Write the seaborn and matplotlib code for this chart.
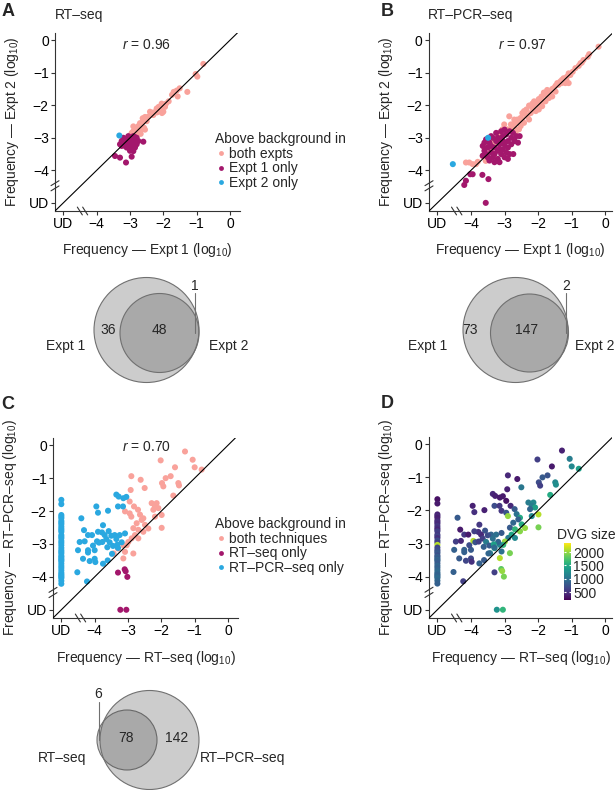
import matplotlib
matplotlib.use('Agg')
import matplotlib as mpl
from matplotlib import pyplot as plt
from matplotlib.patches import Circle
import pandas as pd
import seaborn as sns

UD = -5  # "undetected" position on both axes

# ---------------- data (log10 frequencies) ----------------
# A: RT-seq, expt 1 vs expt 2
a_both = [(-0.80, -0.73), (-1.03, -1.04), (-0.98, -1.12), (-1.28, -1.59), (-1.51, -1.48), (-1.57, -1.73),
          (-1.69, -1.59), (-1.74, -1.68), (-1.84, -1.88), (-1.92, -1.95), (-2.01, -2.01), (-2.09, -2.13),
          (-2.14, -2.05), (-2.19, -2.22), (-2.04, -2.24), (-2.29, -2.22), (-2.34, -2.29), (-2.55, -2.36),
          (-2.60, -2.49), (-2.50, -2.49), (-2.65, -2.59), (-2.75, -2.64), (-2.72, -2.74), (-2.82, -2.74),
          (-2.90, -2.80), (-2.95, -2.85), (-2.80, -2.87), (-2.65, -2.74), (-2.58, -2.69), (-3.00, -2.93),
          (-2.85, -2.95), (-2.04, -2.18), (-2.45, -2.35), (-2.20, -2.10), (-1.95, -2.05), (-2.05, -1.95),
          (-1.60, -1.55), (-2.70, -2.55), (-2.90, -2.65), (-2.55, -2.75), (-3.05, -2.97), (-2.93, -3.02),
          (-2.00, -2.20), (-2.30, -2.30), (-2.40, -2.20), (-2.62, -2.40), (-2.78, -2.82), (-2.68, -2.88)]
a_expt1 = [(-3.45, -3.56), (-3.30, -3.61), (-3.12, -3.76), (-2.95, -3.58), (-2.90, -3.41), (-2.60, -3.12),
           (-3.25, -3.10), (-3.20, -3.20), (-3.15, -3.25), (-3.10, -3.15), (-3.05, -3.10), (-3.00, -3.20),
           (-2.95, -3.10), (-2.90, -3.05), (-2.85, -3.15), (-2.80, -3.20), (-3.10, -3.30), (-3.00, -3.30),
           (-2.95, -3.25), (-3.20, -3.00), (-3.15, -3.05), (-3.05, -2.95), (-2.90, -2.95), (-2.85, -2.98),
           (-3.25, -3.25), (-3.10, -3.05), (-2.95, -3.35), (-2.85, -3.30), (-2.75, -3.10), (-2.80, -3.00),
           (-3.00, -3.05), (-3.30, -3.20), (-3.15, -3.15), (-3.05, -3.20), (-2.90, -3.20), (-3.00, -3.40)]
a_expt2 = [(-3.32, -2.93)]

# B: RT-PCR-seq, expt 1 vs expt 2
b_both = [(-0.20, -0.20), (-0.48, -0.43), (-0.52, -0.51), (-0.65, -0.61), (-0.70, -0.69), (-0.74, -0.71),
          (-0.79, -0.79), (-0.89, -0.86), (-0.97, -0.97), (-1.04, -1.07), (-1.09, -1.02), (-1.14, -1.12),
          (-1.16, -1.22), (-1.24, -1.17), (-1.29, -1.22), (-1.34, -1.27), (-1.09, -1.32), (-1.19, -1.32),
          (-1.30, -1.32), (-1.43, -1.32), (-1.39, -1.37), (-1.48, -1.40), (-1.53, -1.47), (-1.58, -1.50),
          (-1.48, -1.58), (-1.63, -1.58), (-1.73, -1.53), (-1.68, -1.63), (-1.78, -1.68), (-1.83, -1.61),
          (-1.58, -1.73), (-1.68, -1.78), (-1.90, -1.73), (-1.98, -1.81), (-1.78, -1.88), (-1.93, -1.88),
          (-2.02, -1.88), (-2.12, -1.88), (-2.17, -1.95), (-2.07, -1.98), (-1.98, -1.98), (-1.83, -1.88),
          (-1.88, -2.03), (-2.27, -2.01), (-2.17, -2.08), (-1.98, -2.13), (-2.07, -2.18), (-2.35, -2.13),
          (-2.42, -2.18), (-2.22, -2.24), (-2.47, -2.24), (-2.37, -2.29), (-2.32, -2.34), (-2.86, -2.34),
          (-2.52, -2.39), (-2.62, -2.44), (-2.27, -2.44), (-2.47, -2.44), (-2.71, -2.44), (-2.67, -2.54),
          (-2.42, -2.54), (-2.57, -2.54), (-2.76, -2.59), (-2.81, -2.59), (-3.01, -2.59), (-2.52, -2.64),
          (-2.71, -2.69), (-2.81, -2.74), (-2.91, -2.74), (-2.57, -2.74), (-3.06, -2.74), (-2.96, -2.85),
          (-2.67, -2.85), (-3.16, -2.85), (-3.06, -2.93), (-3.16, -3.00), (-3.26, -3.10), (-3.36, -3.15),
          (-3.46, -3.20), (-3.21, -3.20), (-3.56, -3.25), (-3.60, -3.30), (-3.41, -3.36), (-3.36, -3.46),
          (-3.51, -3.51), (-3.31, -3.56), (-3.65, -3.56), (-3.46, -3.66), (-3.56, -3.71), (-3.80, -3.74),
          (-3.85, -3.81), (-3.95, -3.81), (-4.05, -3.76), (-4.15, -3.76)]
b_expt1 = [(-3.65, -3.25), (-3.60, -3.40), (-3.55, -3.50), (-3.50, -3.30), (-3.45, -3.15), (-3.40, -3.45),
           (-3.35, -3.60), (-3.30, -3.30), (-3.30, -3.50), (-3.25, -3.10), (-3.20, -3.40), (-3.20, -3.65),
           (-3.15, -3.20), (-3.10, -3.50), (-3.10, -3.05), (-3.05, -3.35), (-3.00, -3.60), (-3.00, -3.20),
           (-2.95, -2.90), (-2.95, -3.45), (-2.90, -3.10), (-2.90, -3.30), (-2.85, -3.50), (-2.80, -3.00),
           (-2.80, -3.20), (-2.75, -2.85), (-2.70, -3.10), (-2.65, -2.95), (-2.60, -3.15), (-2.55, -2.95),
           (-3.45, -3.70), (-3.30, -3.75), (-3.15, -3.75), (-3.55, -3.05), (-3.40, -2.95), (-3.25, -2.85),
           (-3.10, -2.80), (-3.00, -2.75), (-3.35, -3.00), (-3.20, -3.00), (-2.74, -3.50), (-3.05, -2.95),
           (-2.85, -2.80), (-3.65, -3.55), (-3.50, -3.60), (-2.90, -3.65), (-3.05, -3.10), (-3.15, -3.35),
           (-3.40, -3.25), (-3.60, -3.15), (-4.02, -4.12), (-4.15, -4.32), (-3.95, -4.12), (-4.20, -4.45),
           (-3.66, -4.14), (-3.48, -4.27), (-3.56, UD)]
b_expt2 = [(-3.49, -3.00), (-4.54, -3.81)]

# C / D: RT-seq (x) vs RT-PCR-seq (y), with DVG size
c_both = [(-1.29, -0.19, 400), (-2.02, -0.46, 600), (-1.06, -0.44, 1100), (-1.00, -0.67, 1200),
          (-0.79, -0.74, 1400), (-1.59, -0.67, 350), (-2.90, -0.94, 450), (-2.62, -1.05, 350),
          (-1.87, -1.00, 800), (-1.72, -0.94, 750), (-1.98, -1.15, 700), (-1.94, -1.25, 600),
          (-1.49, -1.15, 1200), (-1.47, -1.22, 1250), (-1.64, -1.53, 1500), (-2.50, -1.30, 1050),
          (-2.92, -1.36, 400), (-2.95, -1.71, 300), (-2.82, -1.86, 450), (-3.09, -2.01, 550),
          (-2.95, -2.07, 750), (-2.90, -2.17, 2000), (-2.70, -1.96, 800), (-2.64, -2.11, 1000),
          (-2.54, -2.22, 1500), (-2.29, -1.76, 1100), (-2.14, -1.76, 1200), (-2.19, -1.86, 1100),
          (-2.09, -1.91, 1400), (-2.24, -1.96, 900), (-2.19, -2.17, 1200), (-1.99, -2.12, 2100),
          (-1.99, -2.51, 1900), (-2.59, -2.27, 850), (-2.49, -2.42, 1500), (-2.74, -2.37, 900),
          (-2.84, -2.52, 800), (-2.69, -2.57, 1600), (-2.54, -2.63, 1950), (-2.39, -2.53, 2000),
          (-2.79, -2.73, 1450), (-2.69, -2.83, 1200), (-2.89, -2.83, 1100), (-2.99, -2.94, 2000),
          (-3.04, -3.04, 1600), (-3.14, -3.04, 1200), (-3.43, -3.29, 1100), (-3.30, -3.14, 1400),
          (-3.09, -3.24, 1000), (-3.14, -3.44, 2100), (-2.84, -3.29, 1900)]
c_rt_only = [(-3.30, -3.87, 600), (-3.10, -3.77, 1800), (-3.07, -3.83, 2000), (-3.02, -4.00, 1900),
             (-3.23, UD, 1300), (-3.05, UD, 1600)]
c_pcr_only = [(-3.35, -1.50, 450), (-3.28, -1.56, 400), (-3.14, -1.61, 350), (-3.05, -1.57, 350),
              (-3.30, -1.86, 700), (-3.15, -1.86, 550), (-3.60, -1.99, 400), (-3.90, -2.05, 500),
              (-3.95, -1.86, 400), (-4.40, -2.22, 800), (-4.32, -2.58, 350), (-3.75, -2.43, 550),
              (-3.58, -2.61, 750), (-3.70, -2.73, 450), (-3.65, -2.85, 600), (-3.55, -2.95, 1100),
              (-3.45, -3.06, 800), (-3.40, -2.73, 900), (-3.25, -2.73, 1000), (-3.09, -2.68, 800),
              (-3.19, -2.95, 900), (-3.32, -3.02, 1400), (-4.45, -2.94, 600), (-4.30, -2.92, 450),
              (-4.20, -2.73, 550), (-4.08, -2.73, 350), (-3.93, -2.92, 2100), (-3.87, -2.96, 750),
              (-3.77, -2.94, 600), (-4.50, -3.19, 850), (-4.20, -3.19, 850), (-4.20, -3.26, 850),
              (-4.00, -3.19, 800), (-4.00, -3.45, 650), (-3.98, -3.55, 500), (-4.52, -3.86, 850),
              (-4.23, -4.14, 600), (-3.75, -3.60, 850), (-3.61, -3.50, 800), (-3.48, -3.30, 900),
              (-3.30, -3.12, 950), (-3.78, -2.65, 500), (-3.90, -2.63, 600), (-4.05, -3.05, 700),
              (-3.62, -3.10, 850), (-4.35, -3.45, 800), (-4.15, -3.52, 650), (-3.35, -2.85, 1000),
              (-3.50, -2.75, 700)]
# RT-PCR-seq-only DVGs not detected by RT-seq: (y, DVG size)
c_pcr_ud = [(-1.66, 300), (-1.79, 350), (-2.12, 400), (-2.17, 450), (-2.22, 380), (-2.30, 420),
            (-2.35, 500), (-2.40, 450), (-2.47, 550), (-2.53, 500), (-2.58, 420), (-2.63, 600),
            (-2.73, 550), (-2.78, 650), (-2.83, 500), (-2.91, 700), (-2.97, 600), (-3.04, 2100),
            (-3.12, 650), (-3.19, 700), (-3.24, 750), (-3.29, 800), (-3.36, 700), (-3.40, 850),
            (-3.45, 800), (-3.49, 900), (-3.53, 850), (-3.60, 800), (-3.67, 900), (-3.73, 850),
            (-3.80, 900), (-3.87, 950), (-3.92, 900), (-3.96, 850), (-4.00, 900), (-4.04, 950),
            (-4.12, 900), (-4.21, 850)]

r_values = ['0.96', '0.97', '0.70']
venn_a = [36, 48, 1]
venn_b = [73, 147, 2]
venn_c = [6, 78, 142]

COLORS = ['#F9A29B', '#A3176C', '#2AA8E0']
TICKS = [UD, -4, -3, -2, -1, 0]
TICK_LABELS = ['UD', '\u22124', '\u22123', '\u22122', '\u22121', '0']

# ---------------- style ----------------
sns.set_style('ticks')
plt.rcParams['font.family'] = ['Liberation Sans', 'DejaVu Sans']
plt.rcParams['mathtext.fontset'] = 'custom'
plt.rcParams['mathtext.rm'] = 'Liberation Sans'
plt.rcParams['mathtext.it'] = 'Liberation Sans:italic'
plt.rcParams['mathtext.default'] = 'regular'
FS = 10
DOT = 19

W, H = 615, 790
fig = plt.figure(figsize=(W / 100, H / 100), dpi=100)


def px(x, y):
    return x / W, 1 - y / H


def box(left, top, right, bottom):
    return [left / W, 1 - bottom / H, (right - left) / W, (bottom - top) / H]


def to_frame(groups, names):
    frames = []
    for pts, name in zip(groups, names):
        d = pd.DataFrame([p[:2] for p in pts], columns=['x', 'y'])
        d['group'] = name
        frames.append(d)
    return pd.concat(frames, ignore_index=True)


def style_axes(ax, xlabel, ylabel, right):
    ax.set_xlim(-5.25, right)
    ax.set_ylim(-5.25, 0.22)
    ax.set_xticks(TICKS, TICK_LABELS)
    ax.set_yticks(TICKS, TICK_LABELS)
    ax.axline((UD, UD), slope=1, color='black', lw=0.8, zorder=3)
    sns.despine(ax=ax)
    for s in ['left', 'bottom']:
        ax.spines[s].set_linewidth(0.8)
        ax.spines[s].set_color('#333333')
    ax.tick_params(length=3, width=0.8, color='#333333', labelsize=FS, pad=1.5, labelcolor='black')
    ax.set_xlabel(xlabel, fontsize=FS)
    ax.set_ylabel(ylabel, fontsize=FS)
    ax.xaxis.set_label_coords(0.5, -0.17)
    ax.yaxis.set_label_coords(-0.185, 0.5)
    # axis break marks
    x0, y0 = ax.get_xlim()[0], ax.get_ylim()[0]
    for off in (-0.08, 0.08):
        ax.plot([x0 - 0.12, x0 + 0.12], [-4.55 + off, -4.4 + off], color='#333333', lw=0.8, clip_on=False)
        ax.plot([-4.5 + off, -4.35 + off], [y0 + 0.12, y0 - 0.12], color='#333333', lw=0.8, clip_on=False)


def put_legend(ax, x, y):
    sns.move_legend(ax, 'upper left', bbox_to_anchor=px(x, y), bbox_transform=fig.transFigure,
                    title='Above background in', frameon=False, fontsize=FS, title_fontsize=FS,
                    handletextpad=0.1, labelspacing=0.05, borderpad=0, borderaxespad=0,
                    handlelength=0.9, alignment='left', markerscale=0.8)


# ---------------- A ----------------
ax_a = fig.add_axes(box(55, 33, 240, 211))
names_a = ['both expts', 'Expt 1 only', 'Expt 2 only']
sns.scatterplot(data=to_frame([a_both, a_expt1, a_expt2], names_a), x='x', y='y', hue='group',
                hue_order=names_a, palette=COLORS, s=DOT, linewidth=0, ax=ax_a)
style_axes(ax_a, 'Frequency \u2014 Expt 1 (log$_{10}$)', 'Frequency \u2014 Expt 2 (log$_{10}$)', 0.3)
put_legend(ax_a, 215, 132)

# ---------------- B ----------------
ax_b = fig.add_axes(box(429, 33, 612, 211))
sns.scatterplot(data=to_frame([b_both, b_expt1, b_expt2], names_a), x='x', y='y', hue='group',
                hue_order=names_a, palette=COLORS, s=DOT, linewidth=0, ax=ax_b, legend=False)
style_axes(ax_b, 'Frequency \u2014 Expt 1 (log$_{10}$)', 'Frequency \u2014 Expt 2 (log$_{10}$)', 0.2)

# ---------------- C ----------------
c_pcr_all = c_pcr_only + [(UD, y, d) for y, d in c_pcr_ud]
ax_c = fig.add_axes(box(53, 438, 238, 618))
names_c = ['both techniques', 'RT\u2013seq only', 'RT\u2013PCR\u2013seq only']
sns.scatterplot(data=to_frame([c_both, c_rt_only, c_pcr_all], names_c), x='x', y='y', hue='group',
                hue_order=names_c, palette=COLORS, s=DOT, linewidth=0, ax=ax_c)
style_axes(ax_c, 'Frequency \u2014 RT\u2013seq (log$_{10}$)', 'Frequency \u2014 RT\u2013PCR\u2013seq (log$_{10}$)', 0.3)
put_legend(ax_c, 215, 517)

# ---------------- D ----------------
dvg = pd.DataFrame(c_both + c_rt_only + c_pcr_all, columns=['x', 'y', 'size'])
norm = mpl.colors.Normalize(200, 2340)
ax_d = fig.add_axes(box(429, 437, 612, 618))
sns.scatterplot(data=dvg, x='x', y='y', hue='size', palette='viridis', hue_norm=norm,
                s=DOT, linewidth=0, ax=ax_d, legend=False)
style_axes(ax_d, 'Frequency \u2014 RT\u2013seq (log$_{10}$)', 'Frequency \u2014 RT\u2013PCR\u2013seq (log$_{10}$)', 0.2)

cax = fig.add_axes(box(564, 543, 571, 600))
cb = fig.colorbar(mpl.cm.ScalarMappable(norm=norm, cmap='viridis'), cax=cax, ticks=[500, 1000, 1500, 2000])
cb.outline.set_visible(False)
cax.tick_params(length=0, labelsize=FS, pad=1.5)
for v in [500, 1000, 1500, 2000]:
    cax.hlines(v, 0, 0.22, color='white', lw=0.8)
    cax.hlines(v, 0.78, 1, color='white', lw=0.8)
fig.text(*px(557, 535), 'DVG size', fontsize=FS, va='center', ha='left')

# ---------------- labels ----------------
for letter, (x, y) in zip('ABCD', [(8, 11), (387, 11), (8, 405), (387, 403)]):
    fig.text(*px(x, y), letter, fontsize=13, fontweight='bold', ha='center', va='center')
fig.text(*px(55, 15), 'RT\u2013seq', fontsize=FS, va='center')
fig.text(*px(428, 15), 'RT\u2013PCR\u2013seq', fontsize=FS, va='center')
for r, (x, y) in zip(r_values, [(146, 45), (522, 45), (146, 447)]):
    fig.text(*px(x, y), '$\\it{r}$ = ' + r, fontsize=FS, ha='center', va='center')

# ---------------- Venn diagrams ----------------
vax = fig.add_axes([0, 0, 1, 1])
vax.set_xlim(0, W)
vax.set_ylim(H, 0)
vax.axis('off')


def venn(circles, counts, count_pos, tick, names, name_pos):
    for cx, cy, r in circles:
        vax.add_patch(Circle((cx, cy), r, fc='#585858', alpha=0.3, ec='none'))
        vax.add_patch(Circle((cx, cy), r, fill=False, ec='#707070', lw=0.8))
    for n, (x, y) in zip(counts, count_pos):
        vax.text(x, y, str(n), fontsize=FS, ha='center', va='center')
    tx, ty0, ty1 = tick
    vax.plot([tx, tx], [ty0, ty1], color='#707070', lw=0.8)
    for name, (x, y, ha) in zip(names, name_pos):
        vax.text(x, y, name, fontsize=FS, ha=ha, va='center')


venn([(146.5, 330, 52.5), (159.5, 333, 39.5)], venn_a, [(108, 330), (159, 330), (195, 286)],
     (195, 293, 333), ['Expt 1', 'Expt 2'], [(66, 346, 'center'), (209, 346, 'left')])
venn([(515.5, 330, 52.5), (529.5, 333, 39)], venn_b, [(470, 330), (527, 330), (566, 286)],
     (566, 293, 333), ['Expt 1', 'Expt 2'], [(428, 346, 'center'), (575, 346, 'left')])
venn([(127, 740, 30), (149.5, 740, 49.5)], venn_c, [(98, 694), (126, 738), (177, 738)],
     (99, 702, 740), ['RT\u2013seq', 'RT\u2013PCR\u2013seq'], [(62, 758, 'center'), (243, 758, 'center')])

fig.savefig('out.png', dpi=100)
